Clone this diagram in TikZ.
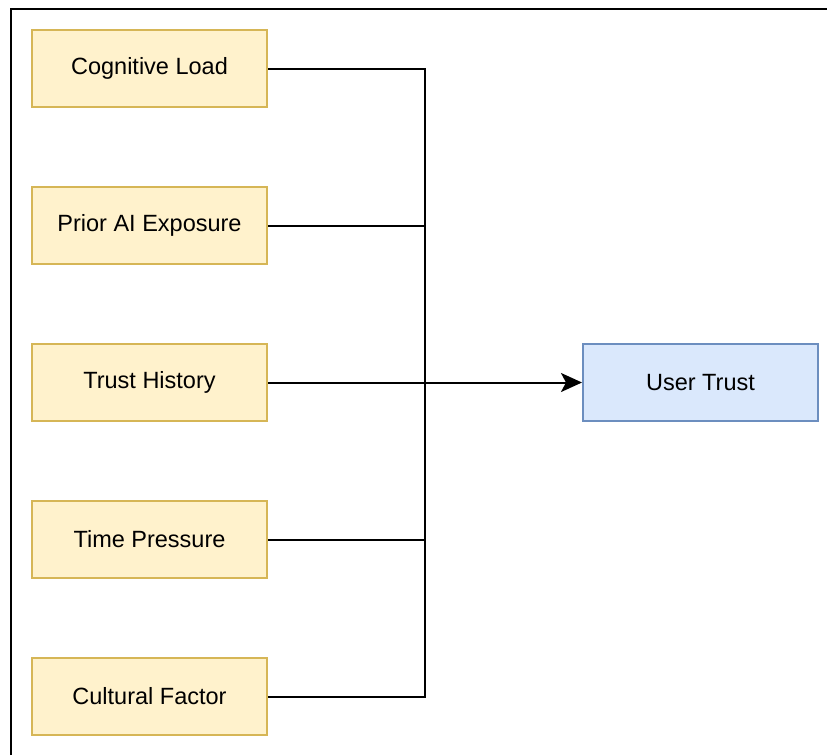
\documentclass[tikz,border=0pt]{standalone}
\usepackage{fontspec}
\setmainfont{Liberation Sans}
\usetikzlibrary{positioning,arrows.meta}

\definecolor{factfill}{HTML}{FFF2CC}
\definecolor{factdraw}{HTML}{D6B656}
\definecolor{userfill}{HTML}{DAE8FC}
\definecolor{userdraw}{HTML}{6C8EBF}

\begin{document}
\begin{tikzpicture}[x=1pt,y=1pt,node distance=78pt,line width=2pt,
	factor/.style={draw=factdraw,fill=factfill,minimum width=235pt,minimum height=77pt,inner sep=0pt,font=\fontsize{23.5}{28}\selectfont},
	target/.style={draw=userdraw,fill=userfill,minimum width=235pt,minimum height=77pt,inner sep=0pt,font=\fontsize{23.5}{28}\selectfont}]
				\useasboundingbox (0,0) rectangle (827,-755);
				\draw (10.5,-755) -- (10.5,-8.5) -- (827,-8.5);
				
				\node[factor] (f_0) at (149.5,-68.5) {Cognitive Load};
				\node[factor] (f_1) [below=of f_0] {Prior AI Exposure};
				\node[factor] (f_2) [below=of f_1] {Trust History};
				\node[factor] (f_3) [below=of f_2] {Time Pressure};
				\node[factor] (f_4) [below=of f_3] {Cultural Factor};
				\node[target] (t) [right=314pt of f_2] {User Trust};
				
				\coordinate (b_0) at ([xshift=157pt]f_0.east);
				\coordinate (b_4) at ([xshift=157pt]f_4.east);
				
				\draw (f_0.east) -- (b_0) -- (b_4) -- (f_4.east);
				\draw (f_1.east) -- (f_1.east -| b_0);
				\draw (f_3.east) -- (f_3.east -| b_0);
				\draw[-{Stealth[length=21pt,width=19pt,inset=5pt]}] (f_2.east) -- (t.west);
				
\end{tikzpicture}
\end{document}
